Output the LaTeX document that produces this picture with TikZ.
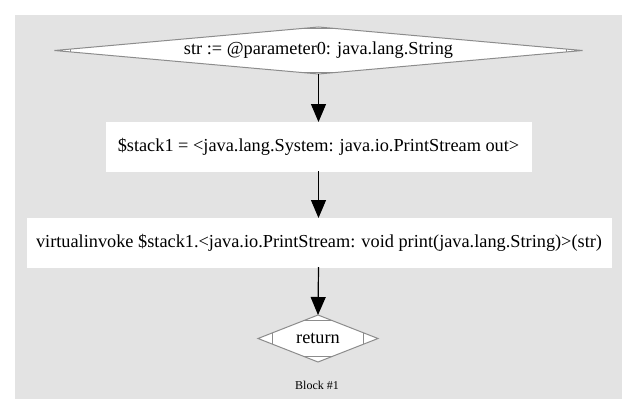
\documentclass[tikz,border=0pt]{standalone}
\usepackage{fontspec}
\setmainfont{Liberation Serif}
\usetikzlibrary{shapes.geometric,calc,arrows.meta}
\definecolor{bggray}{HTML}{E3E3E3}
\definecolor{edgegray}{HTML}{8C8C8C}
\tikzset{
  x=1pt,y=-1pt,
  mdia/.style={diamond,draw=edgegray,fill=white,line width=1pt,inner sep=0pt,outer sep=0pt,font=\fontsize{18.3}{20}\selectfont},
  wbox/.style={rectangle,draw=white,fill=white,inner sep=0pt,outer sep=0pt,font=\fontsize{18.3}{20}\selectfont},
  flow/.style={draw=black,line width=1.2pt,-{Triangle[length=18pt,width=15pt]}},
  cornermark/.style={draw=edgegray,line width=1pt}
}
\newcommand{\mdmarks}[2]{%
  \draw[cornermark] ($(#1.north)!#2!(#1.west)$) -- ($(#1.north)!#2!(#1.east)$);
  \draw[cornermark] ($(#1.south)!#2!(#1.west)$) -- ($(#1.south)!#2!(#1.east)$);
  \draw[cornermark] ($(#1.west)!#2!(#1.north)$) -- ($(#1.west)!#2!(#1.south)$);
  \draw[cornermark] ($(#1.east)!#2!(#1.north)$) -- ($(#1.east)!#2!(#1.south)$);
}
\begin{document}
\begin{tikzpicture}
\useasboundingbox (0,0) rectangle (637,415);
\fill[white] (0,0) rectangle (637,415);
\fill[bggray] (15,15) rectangle (622,399);
\node[mdia,minimum width=528pt,minimum height=47pt,aspect=11.2] (d1) at (318.5,50.5) {str := @parameter0: java.lang.String};
\mdmarks{d1}{16pt}
\node[wbox,minimum width=425pt,minimum height=49pt] (b2) at (318.5,146.5) {\$stack1 = <java.lang.System: java.io.PrintStream out>};
\node[wbox,minimum width=584pt,minimum height=49pt] (b3) at (319,242.5) {virtualinvoke \$stack1.<java.io.PrintStream: void print(java.lang.String)>(str)};
\node[mdia,minimum width=120pt,minimum height=47pt,aspect=2.55] (d4) at (318,338.5) {return};
\mdmarks{d4}{16pt}
\node[font=\fontsize{12}{14}\selectfont] (lbl) at (317,385) {Block \#1};
\draw[flow] (d1.south) -- (b2.north);
\draw[flow] (b2.south) -- (b2.south |- b3.north);
\draw[flow] (b2.south |- b3.south) -- (d4.north);
\end{tikzpicture}
\end{document}
